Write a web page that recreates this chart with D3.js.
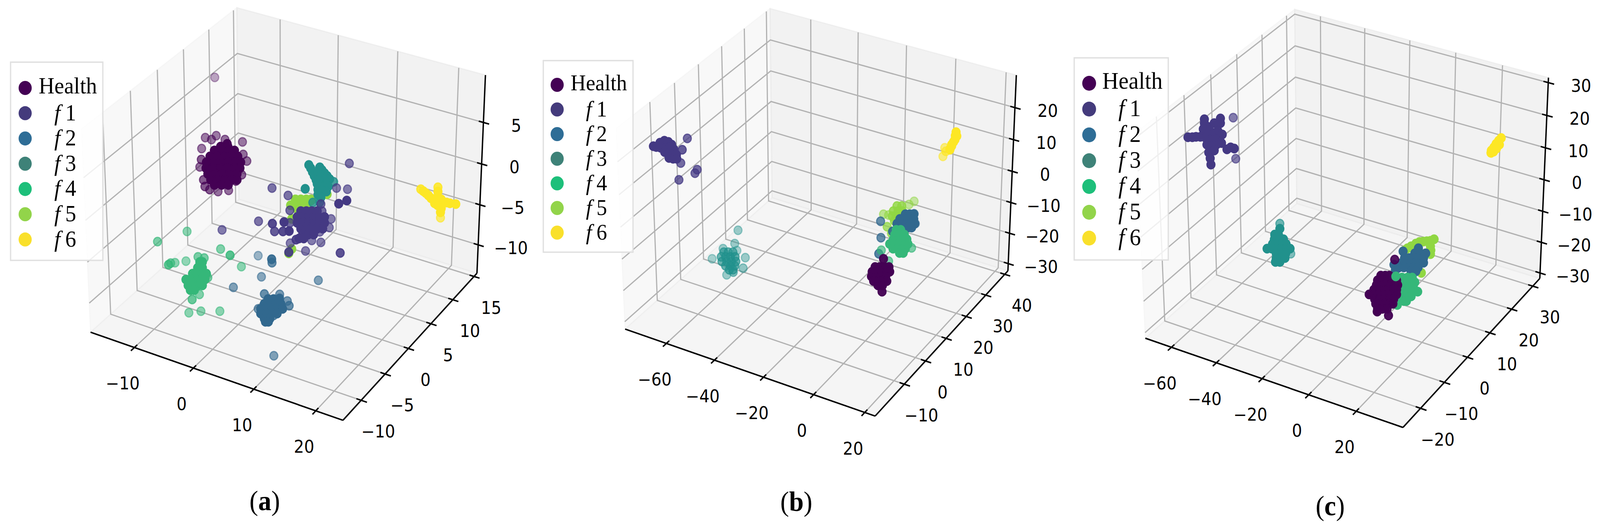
<!DOCTYPE html>
<html>
<head>
<meta charset="utf-8">
<script src="https://cdn.jsdelivr.net/npm/d3@7"></script>
<style>
    html, body { margin: 0; padding: 0; background: #fff; overflow: hidden; }
    svg { display: block; width: 100vw; height: 100vh; }
</style>
</head>
<body>
<div id="chart"></div>
<script>
const seriesNames = ["Health", "f1", "f2", "f3", "f4", "f5", "f6"];
const seriesColors = ["#440154", "#443983", "#31688e", "#21918c", "#35b779", "#90d743", "#fde725"];
const legendColors = ["#440154", "#443b7c", "#2e6d96", "#3e8278", "#1dbf7a", "#92d44a", "#f9e02b"];

// axis limits and ticks
const aXDomain = [-17.6, 24.3], aYDomain = [-13.7, 15.7], aZDomain = [-13.6, 10.6];
const aXTicks = [-10, 0, 10, 20], aYTicks = [-10, -5, 0, 5, 10, 15], aZTicks = [-10, -5, 0, 5];
const bXDomain = [-77.5, 24], bYDomain = [-23.3, 41.7], bZDomain = [-32.4, 30];
const bXTicks = [-60, -40, -20, 0, 20], bYTicks = [-10, 0, 10, 20, 30, 40], bZTicks = [-30, -20, -10, 0, 10, 20];
const cXDomain = [-71.8, 39.3], cYDomain = [-27.2, 33.4], cZDomain = [-31.8, 31.5];
const cXTicks = [-60, -40, -20, 0, 20], cYTicks = [-20, -10, 0, 10, 20, 30], cZTicks = [-30, -20, -10, 0, 10, 20, 30];

// points as read on the picture plane of each panel: [across, down, depth]
// depth is only given where the marker is visibly faded
const aHealth = [[58.9,19.8,.25],[56.3,35.2,.45],[58,35.7,.45],[59.3,34.7,.45],[55.3,38,.45],[66.5,36.3,.45],[61.7,35.7,.5],[55.2,40.8,.6],[54.8,42.7,.5],[67.7,41.2,.5],[66.3,44.7,.55],[55.8,46,.6],[56.2,47.7,.6],[59.8,49,.5],[62.7,48.7,.5],[64.7,46.3,.6],[57.5,48.5,.6],[66.7,39.5,.5],
    [62.3,36.8],[60.5,37.5],[62.5,37.5],[58.8,38.5],[60.8,38.5],[62.8,38.5],[64.3,38.5],[57.6,40],[59.6,40],[61.6,40],[63.6,40],[65.2,40],[56.6,41.5],[58.6,41.5],[60.6,41.5],[62.6,41.5],[64.6,41.5],[66,41.5],[56.5,43],[58.4,43],[60.4,43],[62.4,43],[64.4,43],[65.8,43],[57,44.5],[59,44.5],[61,44.5],[63,44.5],[65,44.5],[57.8,46],[59.8,46],[61.8,46],[63.6,46],[65,46],[58.8,47.3],[60.8,47.3],[62.6,47.3]];
const aF1 = [[74.6,48.1,.65],[79,50,.65],[95.8,41.8,.65],[92.3,48.1,.6],[95.3,48.4,.6],[95.1,51.3,1],[92.9,52.1,1],[70.9,56.6,.65],[74.7,57.2,.9],[77.9,56.8,1],[75.3,59.2,.8],[77.6,59.2,.9],[79.3,59.1,1],[79.5,53.8,.7],[79.5,57,.7],[88,52.2,.7],[90.8,56,.6],[90.3,58.2,.6],[87.7,59.3,.6],[85.5,61.5,.6],[88,62,.6],[83.8,64.2,.6],[79.6,62.2,.6],[81.2,61.3,.9],[79.2,64.5,.9],[93.3,64.7,.85],[60.9,58.8,.6],[88.3,54,.7],
    [82.5,54],[84,54],[85.5,54],[87,54],[81.5,55.5],[83,55.5],[84.5,55.5],[86,55.5],[87.5,55.5],[89,55.5],[81.5,57],[83,57],[84.5,57],[86,57],[87.5,57],[89,57],[82.5,58.5],[84,58.5],[85.5,58.5],[87,58.5],[88.5,58.5],[83,60],[84.5,60],[86,60],[82,61],[83.3,61]];
const aF2 = [[70.8,65.4,.4],[74.5,66.3,.9],[74.6,67.2,.7],[71.7,70.8,.5],[64,73.5,.55],[87.3,71.7,.55],[75.1,91,.55],[72.5,75.2,.7],[76.7,75.3,.6],[78.8,77,.6],[79.3,78.2,.7],[70.8,79,.6],[76.7,76.3,.7],[75,80.7,.7],
    [73.5,76.5],[75,76.5],[76.5,76.5],[72.5,77.7],[74,77.7],[75.5,77.7],[77,77.7],[71.5,79],[73,79],[74.5,79],[76,79],[77.5,79],[71.5,80.2],[73,80.2],[74.5,80.2],[76,80.2],[72.5,81.5],[74,81.5],[72.8,82.3],[73.6,82.3]];
const aF3 = [[91.5,46.5,.8],[84.7,42.2],[85.2,43],[85.7,44],[86.2,45],[86.7,46],[87.7,42.8],[88.3,43.5],[89,44.3],[89.7,45],[90.4,45.8],[87.3,44],[88,45],[88.7,46],[89.5,46.7],[87.4,46],[87,47],[88,47.5],[89,47.7],[90,47.7],[87.2,48.5],[88.3,48.8],[89.5,49],[87.2,49.8],[88,50.5],[83.7,48.3],[85.8,51.8,.8],[87.7,51.7,.8]];
const aF4 = [[51.3,59.2,.5],[43.2,61.8,.6],[60.5,63.7,.55],[63.1,65.3,.8],[66.2,68.2,.5],[46.8,67.3,.6],[46.2,67.7,.75],[48,67.2,.5],[51,66.8,.45],[54.7,75.3,.55],[52.7,76.6,.7],[51.8,80,.5],[55.1,79.6,.5],[60.3,79.6,.5],[54.3,65.7,.6],[56,66,.6],[57,71,.6],
    [54.8,67],[55.5,67],[54.2,68.5],[55.5,68.5],[52.8,70],[54.2,70],[55.6,70],[56.6,70],[51,71.5],[52.4,71.5],[53.8,71.5],[55.2,71.5],[56.2,71.5],[51.6,73],[53,73],[54.4,73],[55.5,73],[52.2,74.2],[53.3,74.2]];
const aF5 = [[81,51],[82.5,51],[84,51],[85.3,51],[79.7,52.5],[81.2,52.5],[82.7,52.5],[84.2,52.5],[81.5,53.5],[83,53.5],[85.3,51.3],[89.7,49.7],[80,56],[80,63.7],[79.2,64.8]];
const aF6 = [[120.8,55.7,.6],[115.4,48.4,.85],[116.1,48.9],[116.8,49.4],[117.5,50],[118.2,50.7],[119,51],[120.1,50.3],[120.1,49],[120.1,47.9,.85],[121,51],[121.5,51.6],[122.5,51.8],[123.4,52],[125,52.2],[119.2,52],[120,52.5],[121,53.3],[120.8,54.3]];

const bHealth = [[94,68.3],[95.3,68.3],[96.6,68.3],[97.8,68.3],[93.2,69.5],[94.5,69.5],[95.8,69.5],[97.1,69.5],[98,69.5],[93,70.7],[94.3,70.7],[95.6,70.7],[96.9,70.7],[93.6,71.9],[94.9,71.9],[96.2,71.9],[97.2,71.9],[94.8,73],[96,73],[96.3,66.2,.95],[95.9,74.6,.95]];
const bF1 = [[41.1,38.3,.8],[42.5,35.4,.7],[45.2,43.4,.7],[44.6,44.3,.7],[40.2,46,.7],[40.7,41.7,.7],[33.2,37.4],[34,37.6],[35,36.5],[36.2,36],[37.3,36.3],[38.2,37],[35.2,37.8],[36.4,37.5],[37.6,37.8],[38.8,38.2],[36.3,38.9],[37.4,39.2],[38.6,39.4],[39.5,39.6],[37.5,40.4],[38.6,40.6],[39.6,40.6]];
const bF2 = [[95.5,56.6,.7],[95.6,60.8,.7],[95,64.9,.8],[98.8,59.2,.9],[104.7,54.7,.7],[105,57.2,.7],[102.3,54.8],[103.5,54.8],[104.6,54.8],[100.8,56],[102,56],[103.3,56],[104.6,56],[100,57.2],[101.3,57.2],[102.6,57.2],[103.9,57.2],[104.8,57.2],[101.8,58.2],[103,58.2],[104,58.2]];
const bF3 = [[56.4,58.9,.35],[55.5,62.3,.35],[49.3,66.2,.3],[52.3,63.6,.35],[56.1,64.1,.3],[58.4,65.9,.35],[57.8,68.6,.4],[53.3,70.3,.35],[55.1,69.6,.5],[52.5,64.5,.6],[53.7,64.5,.6],[55,64.5,.6],[51.8,65.7,.6],[53,65.7,.65],[54.3,65.7,.65],[55.6,65.7,.65],[52,66.9,.6],[53.3,66.9,.65],[54.6,66.9,.65],[55.8,66.9,.65],[53,68,.65],[54.3,68,.65],[55.5,68,.65],[54,69,.65],[55,69,.65]];
const bF4 = [[104,63.4,.6],[95.7,64,.6],[97.7,66.8,.6],[99.8,58.8],[101,58.8],[99.4,60],[100.7,60],[102,60],[99,61.2],[100.3,61.2],[101.6,61.2],[102.7,61.2],[98,62.4],[99.2,62.4],[100.5,62.4],[101.8,62.4],[103,62.4],[98.9,63.6],[100.2,63.6],[101.5,63.6],[102.3,63.6],[100.7,64.7],[101.7,64.7]];
const bF5 = [[104.7,51.5,.4],[103.3,52.3,.45],[96.3,54.8,.5],[97.7,55,.5],[100,52.7,.8],[101.3,52.7,.8],[99,54,.85],[100.3,54,.85],[101.5,54,.85],[98.7,55.3,.85],[99.8,55.3,.85],[99.3,56.5,.85],[97.3,58,.7],[98.5,59.7,.7]];
const bF6 = [[113.1,37.8,.5],[112.6,40,.5],[113.4,38.7,.6],[116.2,33.8],[116,34.7],[116.4,34.8],[115.9,35.7],[115.5,36.3],[115,37],[115,37.3],[114.6,38],[114.5,38.3]];

const cHealth = [[86.7,70.5],[87.9,70.5],[89,70.5],[85.8,71.7],[87.1,71.7],[88.4,71.7],[89.7,71.7],[91,71.7],[85.5,72.9],[86.8,72.9],[88.1,72.9],[89.4,72.9],[90.7,72.9],[91.3,72.9],[84.8,74.1],[86.1,74.1],[87.4,74.1],[88.7,74.1],[90,74.1],[91,74.1],[83.5,75.3],[84.9,75.3],[86.2,75.3],[87.5,75.3],[88.8,75.3],[90.1,75.3],[91,75.3],[85,76.5],[86.3,76.5],[87.6,76.5],[88.9,76.5],[90.2,76.5],[85.3,77.7],[86.6,77.7],[87.9,77.7],[89.2,77.7],[90,77.7],[85.8,79],[87.1,79],[88.4,79],[85.7,79.7],[88.8,80.7,.95]];
const cHealthOut = [[90.5,66.4,.9]];
const cF1 = [[46.2,30.1,.6],[46.9,40.6,.6],[38.3,30.5],[42.7,30.3],[38.3,31.5],[39.5,32.5],[41,31.5],[42.7,31.5],[38,33],[39.3,34],[40.7,34],[42,33.5],[43.2,34.4],[37.2,35],[38.7,35.3],[40,35.8],[41.3,35.5],[36,35],[33.8,35.1],[35,35.1],[39,37],[40.3,37.3],[41.6,37],[43,36.6],[39.5,39],[41,38.5],[44.5,38.2],[45.5,37.7],[46.5,38],[39.9,40.5],[40.1,42.1]];
const cF2 = [[92.8,64.3],[97,63.5],[96,64.8],[97.4,64.8],[99,64.8],[93.2,66],[94.5,66],[95.8,66],[97.1,66],[98.4,66],[92.5,67.2],[93.8,67.2],[95.1,67.2],[96.4,67.2],[97.7,67.2],[98.4,67.2],[93,68.4],[94.3,68.4],[95.6,68.4],[96.9,68.4],[95,69.4],[96.3,69.4],[90.3,67.7],[90.7,69],[91.5,68.5]];
const cF3 = [[59,57.2,.6],[62,64.9,.5],[59,58.5],[57.6,60],[58.6,60],[57.5,61.2],[58.8,61.2],[60,61.2],[57,62.4],[58.3,62.4],[59.6,62.4],[60.7,62.4],[55.5,63.6],[56.8,63.6],[58.1,63.6],[59.4,63.6],[60.7,63.6],[61.8,63.6],[58,64.8],[59.3,64.8],[60.6,64.8],[58,66],[59.2,66],[60.4,66],[57.8,67],[59,67]];
const cF4 = [[92.5,71],[94,71],[95.3,71],[92.5,72.2],[93.8,72.2],[95.1,72.2],[96,72.2],[93,73.4],[94.3,73.4],[95.6,73.4],[92.7,74.6],[94,74.6],[95.3,74.6],[96.8,74.6],[92.5,75.8],[93.8,75.8],[95,75.8],[91.6,77],[93,77],[93.7,77],[91.2,78]];
const cF4Top = [[90.8,70.7]];
const cF5 = [[101.3,61.2],[100.3,61.6],[99.3,61.7],[98.3,61.8],[97.3,61.9],[96.3,62.3],[95,63],[94,63.5],[93.3,64],[100.3,63],[100.4,64],[100.3,65],[97.8,69.8]];
const cF6 = [[119.7,35.3],[119,36],[118.3,36.8],[117.7,37.7],[117,38.5],[116.9,39.1],[119.2,37],[118.4,38],[117.6,38.8]];

const width = 4388, height = 1348;
// the window can be narrower than the picture, so the whole drawing is fitted to it
const svg = d3.select("#chart").append("svg")
    .attr("viewBox", `0 0 ${width} ${height}`)
    .attr("preserveAspectRatio", "none")
    .style("background", "#fff");

// the same view matplotlib uses by default: elev 30, azim -60, dist 10, box 4:4:3
const boxX = 0.595, boxY = 0.595, boxZ = 0.446;
const viewDist = 10;
const el = 30 * Math.PI / 180, az = -60 * Math.PI / 180;
const nv = [Math.cos(el) * Math.cos(az), Math.cos(el) * Math.sin(az), Math.sin(el)];
const uv = [-Math.sin(az), Math.cos(az), 0];
const vv = [nv[1] * uv[2] - nv[2] * uv[1], nv[2] * uv[0] - nv[0] * uv[2], nv[0] * uv[1] - nv[1] * uv[0]];

const paneLeft = "rgba(242,242,242,.5)", paneBack = "rgba(230,230,230,.5)", paneFloor = "rgba(236,236,236,.5)";
const gridColor = "#b2b2b2";
const depthAlpha = d3.scaleLinear().domain([0, 1]).range([.12, 1]);

function drawPanel(p) {
    const g = svg.append("g");
    const sx = d3.scaleLinear().domain(p.xDomain).range([-boxX, boxX]);
    const sy = d3.scaleLinear().domain(p.yDomain).range([-boxY, boxY]);
    const sz = d3.scaleLinear().domain(p.zDomain).range([-boxZ, boxZ]);
    const screenX = d3.scaleLinear().domain([-.1, .1]).range([p.cx - .1 * p.kx, p.cx + .1 * p.kx]);
    const screenY = d3.scaleLinear().domain([-.1, .1]).range([p.cy + .1 * p.ky, p.cy - .1 * p.ky]);
    // picture plane of the panel, for the scatter points
    const planeX = d3.scaleLinear().domain([0, 146]).range([p.left, p.left + 1460]);
    const planeY = d3.scaleLinear().domain([0, 134.8]).range([0, 1348]);

    const project = (x, y, z) => {
        const q = [sx(x), sy(y), sz(z)];
        const d = viewDist - d3.sum(q, (c, i) => c * nv[i]);
        return [screenX(d3.sum(q, (c, i) => c * uv[i]) / d), screenY(d3.sum(q, (c, i) => c * vv[i]) / d)];
    };
    const path = d3.line();
    const [x0, x1] = p.xDomain, [y0, y1] = p.yDomain, [z0, z1] = p.zDomain;

    // panes
    const panes = [
        [[x0, y0, z0], [x0, y1, z0], [x0, y1, z1], [x0, y0, z1], paneLeft],
        [[x0, y1, z0], [x1, y1, z0], [x1, y1, z1], [x0, y1, z1], paneBack],
        [[x0, y0, z0], [x1, y0, z0], [x1, y1, z0], [x0, y1, z0], paneFloor]
    ];
    panes.forEach(c => {
        g.append("path")
            .attr("d", path(c.slice(0, 4).map(q => project(...q))) + "Z")
            .attr("fill", c[4])
            .attr("stroke", c[4])
            .attr("stroke-width", 3);
    });

    // grid
    const grid = (pts) => g.append("path")
        .attr("d", path(pts.map(q => project(...q))))
        .attr("fill", "none")
        .attr("stroke", gridColor)
        .attr("stroke-width", 3.2);
    p.xTicks.forEach(t => grid([[t, y0, z0], [t, y1, z0], [t, y1, z1]]));
    p.yTicks.forEach(t => grid([[x1, t, z0], [x0, t, z0], [x0, t, z1]]));
    p.zTicks.forEach(t => grid([[x0, y0, t], [x0, y1, t], [x1, y1, t]]));

    // axis lines
    const axisLine = (a, b) => g.append("path")
        .attr("d", path([project(...a), project(...b)]))
        .attr("stroke", "#000")
        .attr("stroke-width", 3.8)
        .attr("fill", "none");
    axisLine([x0, y0, z0], [x1, y0, z0]);
    axisLine([x1, y0, z0], [x1, y1, z0]);
    axisLine([x1, y1, z0], [x1, y1, z1]);

    const tickLabel = (pos, t, off) => g.append("text")
        .attr("x", pos[0] + off[0])
        .attr("y", pos[1] + off[1])
        .attr("text-anchor", "middle")
        .attr("dominant-baseline", "central")
        .attr("font-family", "'DejaVu Sans'")
        .attr("font-size", 44)
        .attr("fill", "#000")
        .text(d3.format("")(t).replace("-", "\u2212"));

    const dy = y1 - y0, dx = x1 - x0;
    p.xTicks.forEach(t => {
        axisLine([t, y0 - .022 * dy, z0], [t, y0 + .018 * dy, z0]);
        tickLabel(project(t, y0, z0), t, [-32, 92]);
    });
    p.yTicks.forEach(t => {
        axisLine([x1 + .022 * dx, t, z0], [x1 - .018 * dx, t, z0]);
        tickLabel(project(x1, t, z0), t, [47, 80]);
    });
    p.zTicks.forEach(t => {
        axisLine([x1 + .022 * dx, y1, t], [x1 - .018 * dx, y1, t]);
        tickLabel(project(x1, y1, t), t, [90, 8]);
    });

    // scatter layers, back to front
    p.layers.forEach(([pts, idx]) => {
        g.append("g").selectAll("circle")
            .data(pts)
            .join("circle")
            .attr("cx", d => planeX(d[0]))
            .attr("cy", d => planeY(d[1]))
            .attr("r", 11)
            .attr("fill", seriesColors[idx])
            .attr("stroke", seriesColors[idx])
            .attr("stroke-width", 3)
            .attr("fill-opacity", d => depthAlpha(d[2] === undefined ? 1 : d[2]))
            .attr("stroke-opacity", d => depthAlpha(d[2] === undefined ? 1 : d[2]));
    });

    // legend
    const lg = p.legend;
    g.append("rect")
        .attr("x", lg.x).attr("y", lg.y)
        .attr("width", lg.w).attr("height", lg.h)
        .attr("fill", "rgba(255,255,255,.8)")
        .attr("stroke", "#e0e0e0")
        .attr("stroke-width", 3.5);
    seriesNames.forEach((name, i) => {
        const my = lg.firstY + i * lg.step;
        g.append("circle")
            .attr("cx", lg.markX).attr("cy", my)
            .attr("r", lg.r)
            .attr("fill", legendColors[i]);
        const label = g.append("text")
            .attr("font-family", "'Liberation Serif'")
            .attr("font-size", lg.font)
            .attr("fill", "#000");
        if (i === 0) {
            label.attr("x", lg.nameX).attr("y", my + 14).text(name);
        } else {
            label.attr("x", lg.fX).attr("y", my + 18);
            label.append("tspan").attr("font-style", "italic").text(name[0]);
            label.append("tspan").attr("dx", lg.font * .22).text(name[1]);
        }
    });

    // caption
    const cap = g.append("text")
        .attr("x", p.caption[0]).attr("y", p.caption[1])
        .attr("text-anchor", "middle")
        .attr("font-family", "'Liberation Serif'")
        .attr("font-size", 72)
        .attr("fill", "#000");
    cap.append("tspan").text("(");
    cap.append("tspan").attr("font-weight", "bold").text(p.name);
    cap.append("tspan").text(")");
}

drawPanel({
    name: "a", left: 0, cx: 788, cy: 522, kx: 6662, ky: 6642,
    xDomain: aXDomain, yDomain: aYDomain, zDomain: aZDomain,
    xTicks: aXTicks, yTicks: aYTicks, zTicks: aZTicks,
    layers: [[aF5, 5], [aF3, 3], [aHealth, 0], [aF1, 1], [aF2, 2], [aF4, 4], [aF6, 6]],
    legend: { x: 29, y: 159, w: 253, h: 507, firstY: 225, step: 64.6, markX: 69, r: 18, nameX: 106, fX: 149, font: 60 },
    caption: [726, 1305]
});
drawPanel({
    name: "b", left: 1460, cx: 2249, cy: 518, kx: 6600, ky: 6560,
    xDomain: bXDomain, yDomain: bYDomain, zDomain: bZDomain,
    xTicks: bXTicks, yTicks: bYTicks, zTicks: bZTicks,
    layers: [[bF3, 3], [bF1, 1], [bF6, 6], [bF5, 5], [bF2, 2], [bF4, 4], [bHealth, 0]],
    legend: { x: 1490, y: 155, w: 246, h: 490, firstY: 217, step: 63, markX: 1528, r: 18, nameX: 1565, fX: 1607, font: 58 },
    caption: [2184, 1307]
});
drawPanel({
    name: "c", left: 2920, cx: 3692, cy: 533, kx: 6801, ky: 6730,
    xDomain: cXDomain, yDomain: cYDomain, zDomain: cZDomain,
    xTicks: cXTicks, yTicks: cYTicks, zTicks: cZTicks,
    layers: [[cF1, 1], [cF3, 3], [cF6, 6], [cF5, 5], [cF2, 2], [cHealthOut, 0], [cF4, 4], [cHealth, 0], [cF4Top, 4]],
    legend: { x: 2946, y: 148, w: 258, h: 517, firstY: 213, step: 66, markX: 2987, r: 19, nameX: 3023, fX: 3067, font: 62 },
    caption: [3648, 1318]
});
</script>
</body>
</html>
